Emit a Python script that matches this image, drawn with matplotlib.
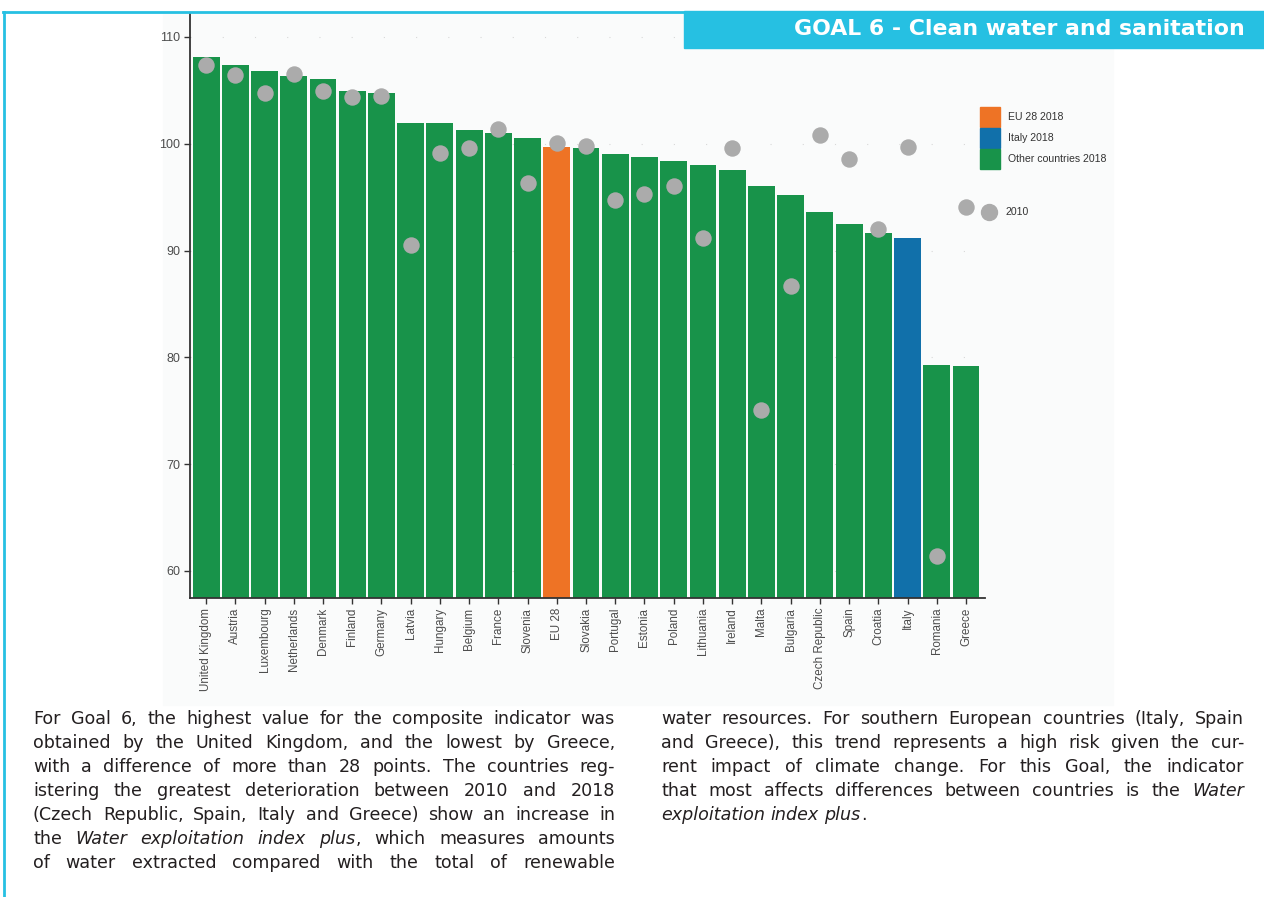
import numpy as np
import matplotlib.pyplot as plt
from matplotlib.patches import Rectangle
from matplotlib.lines import Line2D

countries = ['United Kingdom', 'Austria', 'Luxembourg', 'Netherlands', 'Denmark',
             'Finland', 'Germany', 'Latvia', 'Hungary', 'Belgium', 'France',
             'Slovenia', 'EU 28', 'Slovakia', 'Portugal', 'Estonia', 'Poland',
             'Lithuania', 'Ireland', 'Malta', 'Bulgaria', 'Czech Republic',
             'Spain', 'Croatia', 'Italy', 'Romania', 'Greece']
v2018 = [108.1, 107.4, 106.8, 106.3, 106.1, 104.9, 104.8, 101.9, 101.9, 101.3,
         101.0, 100.5, 99.7, 99.6, 99.0, 98.8, 98.4, 98.0, 97.5, 96.0, 95.2,
         93.6, 92.5, 91.6, 91.2, 79.3, 79.2]
v2010 = [107.4, 106.4, 104.8, 106.5, 104.9, 104.4, 104.5, 90.5, 99.1, 99.6,
         101.4, 96.3, 100.1, 99.8, 94.7, 95.3, 96.0, 91.2, 99.6, 75.1, 86.7,
         100.8, 98.6, 92.0, 99.7, 61.4, 94.1]
yticks = [60, 70, 80, 90, 100, 110]

title = 'GOAL 6 - Clean water and sanitation'
left_lines = [
    'For Goal 6, the highest value for the composite indicator was',
    'obtained by the United Kingdom, and the lowest by Greece,',
    'with a difference of more than 28 points. The countries reg-',
    'istering the greatest deterioration between 2010 and 2018',
    '(Czech Republic, Spain, Italy and Greece) show an increase in',
    'the *Water exploitation index plus*, which measures amounts',
    'of water extracted compared with the total of renewable',
]
right_lines = [
    'water resources. For southern European countries (Italy, Spain',
    'and Greece), this trend represents a high risk given the cur-',
    'rent impact of climate change. For this Goal, the indicator',
    'that most affects differences between countries is the *Water*',
    '*exploitation index plus*.',
]

GREEN = '#18934a'
ORANGE = '#ee7325'
BLUE = '#1170aa'
GREY = '#ababab'
CYAN = '#26c0e2'

W, H = 1264, 897
fig = plt.figure(figsize=(W / 100, H / 100), dpi=100)

# page frame and chart panel
fig.patches.append(Rectangle((163 / W, 1 - 705 / H), (1113 - 163) / W, (705 - 13) / H,
                             transform=fig.transFigure, color='#fafbfb', zorder=-2))
fig.add_artist(Line2D([4 / W, 4 / W], [0, 1 - 12 / H], transform=fig.transFigure,
                      color=CYAN, lw=2))
fig.add_artist(Line2D([3 / W, 685 / W], [1 - 12 / H, 1 - 12 / H], transform=fig.transFigure,
                      color=CYAN, lw=2))
fig.patches.append(Rectangle((684 / W, 1 - 48 / H), (W - 684) / W, 37 / H,
                             transform=fig.transFigure, color=CYAN, zorder=1))
fig.text(1245 / W, 1 - 29 / H, title, ha='right', va='center', color='white',
         fontsize=15.8, fontweight='bold', family='DejaVu Sans', zorder=2)

ax = fig.add_axes([190 / W, 1 - 598 / H, (985 - 190) / W, (598 - 14) / H])
ax.set_facecolor('none')
x = np.arange(len(countries))
colors = [ORANGE if c == 'EU 28' else BLUE if c == 'Italy' else GREEN for c in countries]
ax.bar(x, v2018, width=0.92, color=colors, zorder=2)
ax.scatter(x, v2010, s=140, color=GREY, zorder=3, linewidths=0, clip_on=False)

ax.set_xlim(-0.55, 26.65)
ax.set_ylim(57.47, 112.15)
ax.set_yticks(yticks)
ax.set_xticks(x)
ax.set_xticklabels(countries, rotation=90, ha='center', va='top',
                   fontsize=8.4, color='#4d4d4d', family='Liberation Sans')
for lab in ax.get_yticklabels():
    lab.set_fontsize(9)
    lab.set_color('#4d4d4d')
    lab.set_family('Liberation Sans')
for s in ['top', 'right']:
    ax.spines[s].set_visible(False)
for s in ['left', 'bottom']:
    ax.spines[s].set_color('#333333')
    ax.spines[s].set_linewidth(1.3)
ax.tick_params(length=4, width=1, color='#333333', pad=3)
ax.yaxis.grid(True, color='#d8d8d8', linestyle=(0, (1, 28)), lw=0.8, zorder=0)
ax.set_axisbelow(True)

# legend, drawn as keys in figure pixels
legend_items = [('EU 28 2018', ORANGE), ('Italy 2018', BLUE), ('Other countries 2018', GREEN)]
for i, (lab, col) in enumerate(legend_items):
    top = 107 + 21 * i
    fig.patches.append(Rectangle((980 / W, 1 - (top + 20) / H), 20 / W, 20 / H,
                                 transform=fig.transFigure, color=col, zorder=2))
    fig.text(1008 / W, 1 - (top + 10) / H, lab, ha='left', va='center', fontsize=7.6,
             family='Liberation Sans', color='#333333')
fig.add_artist(Line2D([989 / W], [1 - 212 / H], transform=fig.transFigure, marker='o',
                      ls='none', color=GREY, markersize=11.5))
fig.text(1006 / W, 1 - 212 / H, '2010', ha='left', va='center', fontsize=7.6,
         family='Liberation Sans', color='#333333')

# justified body text
renderer = fig.canvas.get_renderer()
FS = 12.6
FONT = 'DejaVu Sans'
TXT = '#231f20'


def text_width(s, italic=False):
    t = fig.text(0, 0, s, fontsize=FS, family=FONT, style='italic' if italic else 'normal')
    w = t.get_window_extent(renderer).width
    t.remove()
    return w


SPACE = text_width('a a') - 2 * text_width('a')


def parse(line):
    words = []
    italic = False
    for raw in line.split(' '):
        pieces = []
        buf = ''
        for ch in raw:
            if ch == '*':
                if buf:
                    pieces.append((buf, italic))
                buf = ''
                italic = not italic
            else:
                buf += ch
        if buf:
            pieces.append((buf, italic))
        words.append(pieces)
    return words


def draw_line(line, x0, x1, yc, justify):
    words = parse(line)
    arts = []
    widths = []
    for pieces in words:
        wa = []
        ww = 0
        for txt, it in pieces:
            t = fig.text(0, 1 - yc / H, txt, fontsize=FS, family=FONT, color=TXT,
                         style='italic' if it else 'normal', va='center', ha='left')
            w = t.get_window_extent(renderer).width
            wa.append((t, ww))
            ww += w
        arts.append(wa)
        widths.append(ww)
    space = SPACE
    if justify and len(words) > 1:
        space = (x1 - x0 - sum(widths)) / (len(words) - 1)
    pos = x0
    for wa, ww in zip(arts, widths):
        for t, off in wa:
            t.set_x((pos + off) / W)
        pos += ww + space


for i, line in enumerate(left_lines):
    draw_line(line, 33, 615, 719 + 24 * i, True)
for i, line in enumerate(right_lines):
    draw_line(line, 661, 1244, 719 + 24 * i, i < len(right_lines) - 1)

fig.savefig('out.png', dpi=100)
